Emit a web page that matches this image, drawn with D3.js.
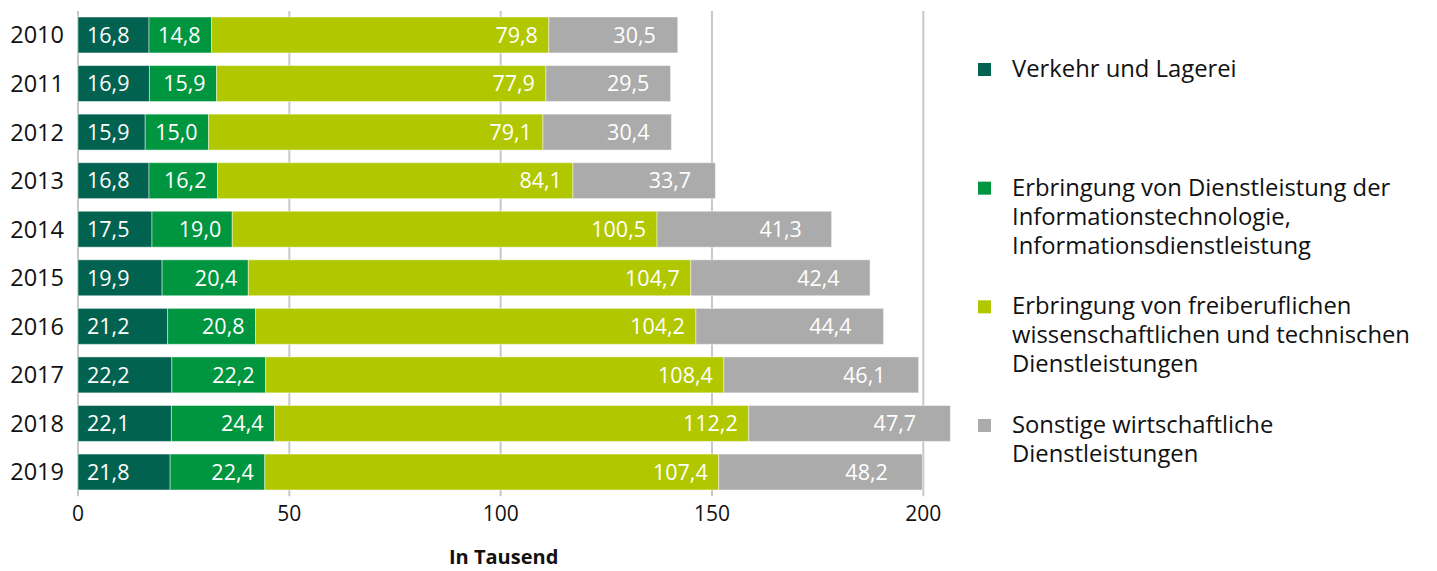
<!DOCTYPE html>
<html>
<head>
<meta charset="utf-8">
<script src="https://cdn.jsdelivr.net/npm/d3@7"></script>
<style>
  body { margin: 0; background: #fff; }
  svg { display: block; font-family: "Open Sans", Lato, sans-serif; }
</style>
</head>
<body>
<svg id="chart" width="1437" height="571"></svg>
<script>
const years = ['2010', '2011', '2012', '2013', '2014', '2015', '2016', '2017', '2018', '2019'];
const verkehr = [16.8, 16.9, 15.9, 16.8, 17.5, 19.9, 21.2, 22.2, 22.1, 21.8];
const itDienst = [14.8, 15.9, 15.0, 16.2, 19.0, 20.4, 20.8, 22.2, 24.4, 22.4];
const freiberuf = [79.8, 77.9, 79.1, 84.1, 100.5, 104.7, 104.2, 108.4, 112.2, 107.4];
const sonstige = [30.5, 29.5, 30.4, 33.7, 41.3, 42.4, 44.4, 46.1, 47.7, 48.2];
const xTicks = [0, 50, 100, 150, 200];
const seriesKeys = ['verkehr', 'it', 'frei', 'sonst'];
const legendLabels = [
  ['Verkehr und Lagerei'],
  ['Erbringung von Dienstleistung der', 'Informationstechnologie,', 'Informationsdienstleistung'],
  ['Erbringung von freiberuflichen', 'wissenschaftlichen und technischen', 'Dienstleistungen'],
  ['Sonstige wirtschaftliche', 'Dienstleistungen']
];
const axisTitle = 'In Tausend';

const colors = ['#00624f', '#00963f', '#b1c800', '#ababab'];

const table = years.map((y, i) => ({
  year: y, verkehr: verkehr[i], it: itDienst[i], frei: freiberuf[i], sonst: sonstige[i]
}));

const stacked = d3.stack().keys(seriesKeys)(table);

const de = d3.formatLocale({ decimal: ',', thousands: '.', grouping: [3], currency: ['', '€'] });
const fmt = de.format('.1f');

const plotLeft = 78, plotRight = 923.3;
const plotTop = 10.7, plotBottom = 496.3;

const x = d3.scaleLinear().domain([0, 200]).range([plotLeft, plotRight]);
const y = d3.scaleBand().domain(years).range([plotTop, plotBottom]).paddingInner(0.26).paddingOuter(0.13);

const svg = d3.select('#chart');

// grid + axis
const xAxis = d3.axisBottom(x)
  .tickValues(xTicks)
  .tickSizeInner(-(plotBottom - 11))
  .tickSizeOuter(0)
  .tickPadding(10);

const ax = svg.append('g')
  .attr('transform', `translate(-0.5, ${plotBottom})`)
  .call(xAxis);
ax.select('.domain').remove();
ax.selectAll('line').attr('stroke', '#c6c8cc').attr('stroke-width', 2);
ax.selectAll('text')
  .attr('fill', '#111')
  .style('font-size', '21px')
  .style('font-family', '"Open Sans", sans-serif');

// bars
const layers = svg.append('g')
  .selectAll('g')
  .data(stacked)
  .join('g')
  .attr('fill', (d, i) => colors[i]);

layers.selectAll('rect')
  .data(d => d)
  .join('rect')
  .attr('x', d => x(d[0]))
  .attr('y', d => y(d.data.year))
  .attr('width', d => x(d[1]) - x(d[0]))
  .attr('height', y.bandwidth())
  .attr('stroke', 'rgba(255,255,255,0.45)')
  .attr('stroke-width', 1);

// value labels
layers.each(function (layer, si) {
  d3.select(this).selectAll('text')
    .data(layer)
    .join('text')
    .attr('x', d => {
      const w = x(d[1]) - x(d[0]);
      if (si === 0) return x(d[0]) + 9;
      if (si === 3) return x(d[1]) - w * 0.17;
      return x(d[1]) - 11;
    })
    .attr('y', d => y(d.data.year) + y.bandwidth() / 2)
    .attr('dy', '0.36em')
    .attr('text-anchor', si === 0 ? 'start' : 'end')
    .attr('fill', '#fff')
    .style('font-size', '21.5px')
    .text(d => fmt(d[1] - d[0]));
});

// year labels
svg.append('g')
  .selectAll('text')
  .data(years)
  .join('text')
  .attr('x', 64)
  .attr('y', d => y(d) + y.bandwidth() / 2)
  .attr('dy', '0.36em')
  .attr('text-anchor', 'end')
  .attr('fill', '#111')
  .style('font-size', '23.5px')
  .text(d => d);

// axis title
svg.append('text')
  .attr('x', (plotLeft + plotRight) / 2 + 3)
  .attr('y', 564)
  .attr('text-anchor', 'middle')
  .attr('fill', '#111')
  .style('font-size', '20px')
  .style('font-weight', 'bold')
  .text(axisTitle);

// legend
const ly = d3.scalePoint().domain(d3.range(legendLabels.length)).range([77, 433]);
const legend = svg.append('g')
  .selectAll('g')
  .data(legendLabels)
  .join('g')
  .attr('transform', (d, i) => `translate(978, ${ly(i)})`);

legend.append('rect')
  .attr('x', 0)
  .attr('y', -14)
  .attr('width', 13)
  .attr('height', 13)
  .attr('fill', (d, i) => colors[i]);

legend.append('text')
  .attr('fill', '#111')
  .style('font-size', '23.8px')
  .selectAll('tspan')
  .data(d => d)
  .join('tspan')
  .attr('x', 34)
  .attr('y', (d, j) => j * 29)
  .text(d => d);
</script>
</body>
</html>
